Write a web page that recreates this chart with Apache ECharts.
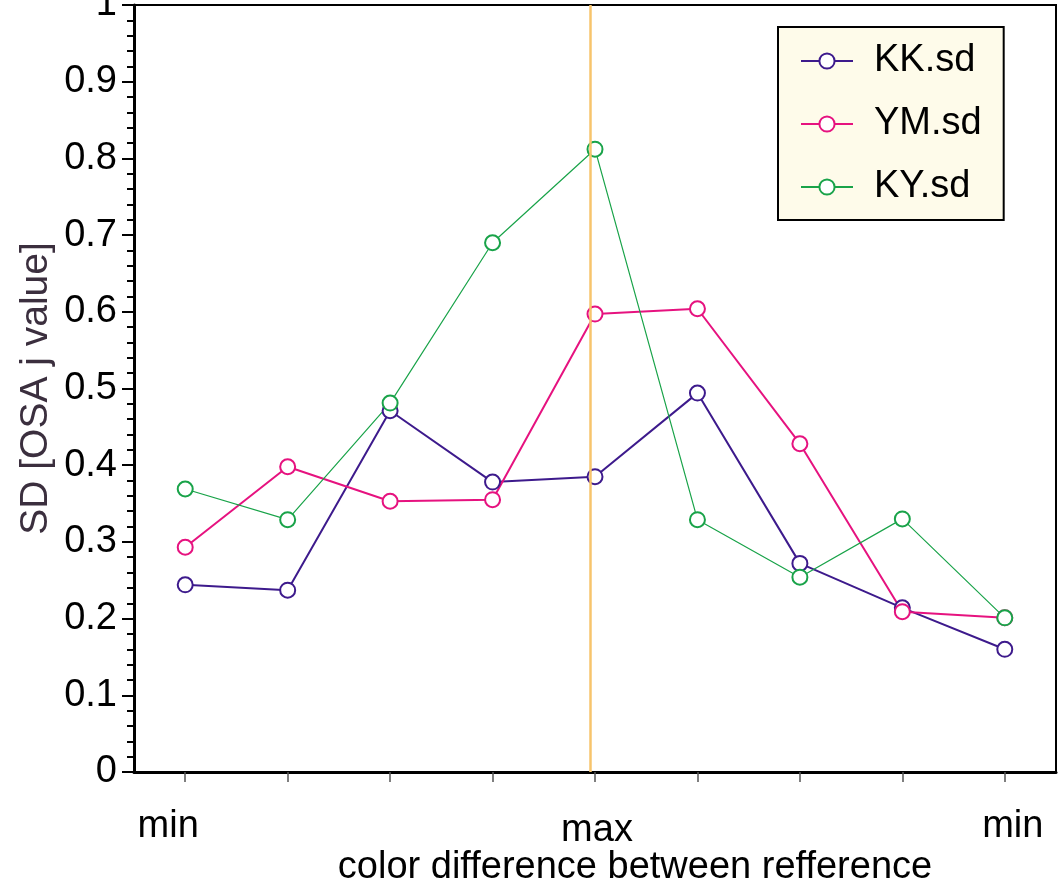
<!DOCTYPE html>
<html>
<head>
<meta charset="utf-8">
<script src="https://cdn.jsdelivr.net/npm/echarts@6/dist/echarts.min.js"></script>
<style>
html,body{margin:0;padding:0;background:#fff;}
#chart{width:1064px;height:887px;}
</style>
</head>
<body>
<div id="chart"></div>
<script>
// ---- data ----
const categories = ['min', '', '', '', 'max', '', '', '', 'min'];
const seriesNames = ['KK.sd', 'YM.sd', 'KY.sd'];
const kkSd = [0.244, 0.237, 0.471, 0.378, 0.385, 0.494, 0.272, 0.214, 0.160];
const ymSd = [0.293, 0.398, 0.353, 0.355, 0.597, 0.604, 0.428, 0.209, 0.201];
const kySd = [0.369, 0.329, 0.481, 0.690, 0.812, 0.329, 0.254, 0.330, 0.201];
const referenceLineX = [3.95];   // position of the vertical reference line (category units)
const yTicks = [0, 0.1, 0.2, 0.3, 0.4, 0.5, 0.6, 0.7, 0.8, 0.9, 1];

const FONT = '"Liberation Sans", Arial, sans-serif';
const colors = ['#3d1a8c', '#e6127f', '#19a349'];
const widths = [2, 2, 1.2];

const chart = echarts.init(document.getElementById('chart'), null, {renderer: 'canvas'});

const lineSeries = [kkSd, ymSd, kySd].map((d, i) => ({
  name: seriesNames[i],
  type: 'line',
  data: d,
  symbol: 'emptyCircle',
  symbolSize: 15,
  showAllSymbol: true,
  color: colors[i],
  lineStyle: {color: colors[i], width: widths[i]},
  itemStyle: {color: colors[i], borderColor: colors[i], borderWidth: 2},
  z: 3,
  animation: false
}));

const option = {
  animation: false,
  backgroundColor: '#ffffff',
  grid: {
    left: 134, top: 5, right: 8, bottom: 115,
    containLabel: false,
    outerBoundsMode: 'none',
    show: true, borderColor: '#000', borderWidth: 2, backgroundColor: 'transparent'
  },
  legend: {
    data: seriesNames,
    orient: 'vertical',
    left: 778, top: 27,
    padding: [15, 22, 14, 22],
    backgroundColor: '#fefbea',
    borderColor: '#000', borderWidth: 2,
    itemWidth: 52, itemHeight: 19,
    itemGap: 25,
    textStyle: {fontFamily: FONT, fontSize: 38, color: '#000', lineHeight: 38, padding: [0, 0, 0, 16]}
  },
  xAxis: [{
    type: 'category',
    data: categories,
    boundaryGap: true,
    name: 'color difference between refference',
    nameLocation: 'middle',
    nameGap: 77,
    nameMoveOverlap: false,
    nameTextStyle: {fontFamily: FONT, fontSize: 38, color: '#000', padding: [0, 0, 0, 80]},
    axisLine: {show: true, onZero: false, lineStyle: {color: '#000', width: 3}},
    axisTick: {show: true, alignWithLabel: true, interval: 0, length: 10, lineStyle: {color: '#555', width: 1.5}},
    axisLabel: {
      show: true, interval: 0, margin: 36,
      fontFamily: FONT, fontSize: 38, color: '#000',
      formatter: function (v, idx) {
        if (idx === 0) return '{l|' + v + '}';
        if (idx === categories.length - 1) return '{r|' + v + '}';
        return '{m|' + v + '}';
      },
      rich: {
        l: {fontFamily: FONT, fontSize: 38, color: '#000', padding: [0, 34, 0, 0]},
        r: {fontFamily: FONT, fontSize: 38, color: '#000', padding: [0, 0, 0, 16]},
        m: {fontFamily: FONT, fontSize: 38, color: '#000', padding: [4, 0, 0, 4]}
      }
    },
    splitLine: {show: false}
  }, {
    type: 'value',
    min: -0.5, max: categories.length - 0.5,
    show: false,
    position: 'bottom'
  }],
  yAxis: {
    type: 'value',
    min: yTicks[0], max: yTicks[yTicks.length - 1], interval: 0.1,
    name: 'SD [OSA j value]',
    nameLocation: 'middle',
    nameGap: 78,
    nameMoveOverlap: false,
    nameTextStyle: {fontFamily: FONT, fontSize: 39, color: '#3b2f3e'},
    axisLine: {show: true, onZero: false, lineStyle: {color: '#000', width: 3}},
    axisTick: {show: true, length: 12, lineStyle: {color: '#000', width: 2}},
    minorTick: {show: true, splitNumber: 5, length: 7, lineStyle: {color: '#000', width: 2}},
    axisLabel: {
      margin: 17, fontFamily: FONT, fontSize: 38, color: '#000',
      formatter: function (v) { return String(Math.round(v * 10) / 10); }
    },
    splitLine: {show: false},
    minorSplitLine: {show: false}
  },
  series: lineSeries.concat([{
    name: 'ref',
    type: 'line',
    xAxisIndex: 1,
    data: [],
    z: 1,
    silent: true,
    markLine: {
      silent: true,
      symbol: ['none', 'none'],
      label: {show: false},
      lineStyle: {color: '#f7c46c', width: 2.5, type: 'solid'},
      data: referenceLineX.map(x => ({xAxis: x}))
    }
  }])
};
chart.setOption(option);
</script>
</body>
</html>
